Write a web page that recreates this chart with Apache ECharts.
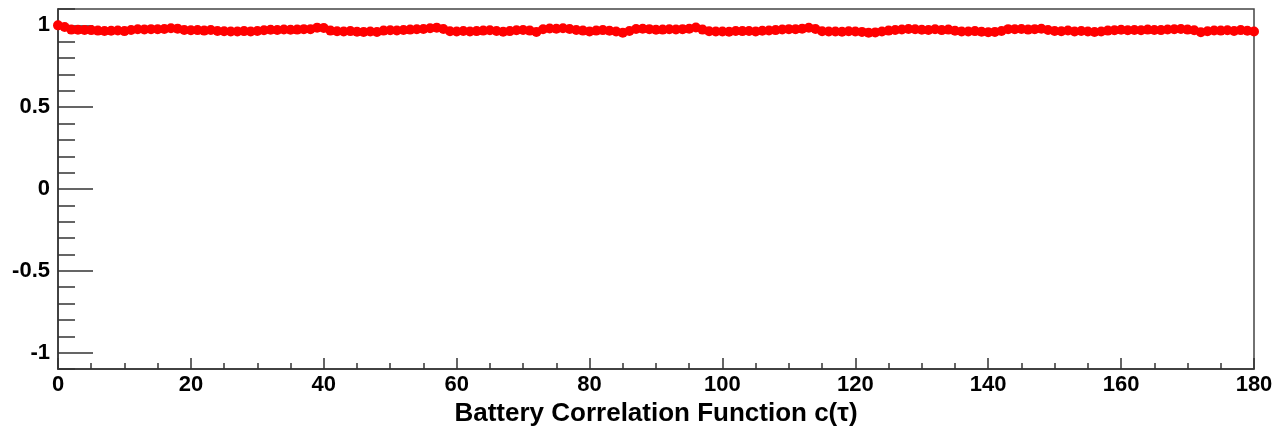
<!DOCTYPE html>
<html><head><meta charset="utf-8">
<script src="https://cdn.jsdelivr.net/npm/echarts@6/dist/echarts.min.js"></script>
<style>html,body{margin:0;padding:0;background:#fff}#c{width:1274px;height:429px}</style>
</head><body><div id="c"></div>
<script>
const tau = [];
for (let i = 0; i <= 180; i++) tau.push(i);
const corr = [
1.0,0.99,0.974,0.973,0.972,0.971,0.968,0.966,0.967,0.969,
0.965,0.972,0.976,0.975,0.977,0.976,0.978,0.982,0.98,0.972,
0.97,0.971,0.968,0.972,0.966,0.964,0.963,0.962,0.965,0.962,
0.966,0.97,0.973,0.972,0.975,0.973,0.974,0.977,0.976,0.986,
0.984,0.968,0.964,0.962,0.965,0.961,0.96,0.963,0.959,0.968,
0.97,0.969,0.972,0.974,0.976,0.978,0.982,0.986,0.978,0.964,
0.963,0.966,0.962,0.965,0.968,0.97,0.966,0.961,0.965,0.97,
0.972,0.968,0.96,0.976,0.981,0.979,0.982,0.978,0.972,0.968,
0.963,0.968,0.971,0.967,0.962,0.955,0.966,0.978,0.979,0.977,
0.973,0.974,0.976,0.975,0.977,0.979,0.987,0.974,0.964,0.962,
0.963,0.961,0.966,0.965,0.966,0.963,0.967,0.969,0.971,0.975,
0.977,0.976,0.98,0.985,0.978,0.964,0.963,0.962,0.961,0.964,
0.963,0.96,0.955,0.957,0.962,0.968,0.972,0.975,0.978,0.976,
0.973,0.972,0.976,0.971,0.974,0.967,0.963,0.962,0.965,0.961,
0.958,0.96,0.966,0.977,0.976,0.978,0.974,0.977,0.979,0.972,
0.966,0.964,0.969,0.963,0.966,0.962,0.959,0.963,0.968,0.97,
0.973,0.97,0.972,0.97,0.974,0.972,0.971,0.975,0.976,0.978,
0.974,0.97,0.958,0.964,0.969,0.968,0.97,0.966,0.971,0.967,
0.962
];
const yMajor = [-1, -0.5, 0, 0.5, 1];
const yMinor = [-1.1,-1,-0.9,-0.8,-0.7,-0.6,-0.5,-0.4,-0.3,-0.2,-0.1,0,0.1,0.2,0.3,0.4,0.5,0.6,0.7,0.8,0.9,1,1.1];
const xTitle = 'Battery Correlation Function c(τ)';

const chart = echarts.init(document.getElementById('c'), null, {renderer: 'canvas'});
const fontFam = '"Liberation Sans", Arial, Helvetica, sans-serif';
const axisCol = '#333';
chart.setOption({
  animation: false,
  grid: {left: 58, right: 20, top: 9, bottom: 60, outerBoundsMode: 'none', containLabel: false,
    show: true, borderColor: '#444', borderWidth: 1.5, backgroundColor: '#fff'},
  xAxis: {
    type: 'value', min: 0, max: 180, interval: 20,
    name: xTitle, nameLocation: 'middle', nameGap: 32,
    nameTextStyle: {fontFamily: fontFam, fontWeight: 'bold', fontSize: 26, color: '#000'},
    axisLine: {show: true, onZero: false, lineStyle: {color: axisCol, width: 1.5}},
    axisTick: {show: true, inside: true, length: 11, lineStyle: {color: axisCol, width: 1.5}},
    minorTick: {show: true, splitNumber: 4, length: 6, lineStyle: {color: axisCol, width: 1.5}},
    splitLine: {show: false},
    axisLabel: {fontFamily: fontFam, fontWeight: 'bold', fontSize: 22, color: '#000', margin: 5,
      formatter: v => String(v)}
  },
  yAxis: [{
    type: 'value', min: -1.1, max: 1.1,
    axisLine: {show: true, onZero: false, lineStyle: {color: axisCol, width: 1.5}},
    axisTick: {show: true, inside: true, length: 35, customValues: yMajor, lineStyle: {color: axisCol, width: 1.5}},
    axisLabel: {fontFamily: fontFam, fontWeight: 'bold', fontSize: 22, color: '#000', margin: 8,
      customValues: yMajor, formatter: v => String(v)},
    splitLine: {show: false}
  }, {
    type: 'value', min: -1.1, max: 1.1, position: 'left',
    axisLine: {show: false},
    axisTick: {show: true, inside: true, length: 17, customValues: yMinor, lineStyle: {color: axisCol, width: 1.5}},
    axisLabel: {show: false},
    splitLine: {show: false}
  }],
  series: [{
    type: 'scatter', yAxisIndex: 0,
    data: tau.map((t, i) => [t, corr[i]]),
    symbol: 'circle', symbolSize: 10,
    itemStyle: {color: '#ff0000', opacity: 1}
  }]
});
</script></body></html>
